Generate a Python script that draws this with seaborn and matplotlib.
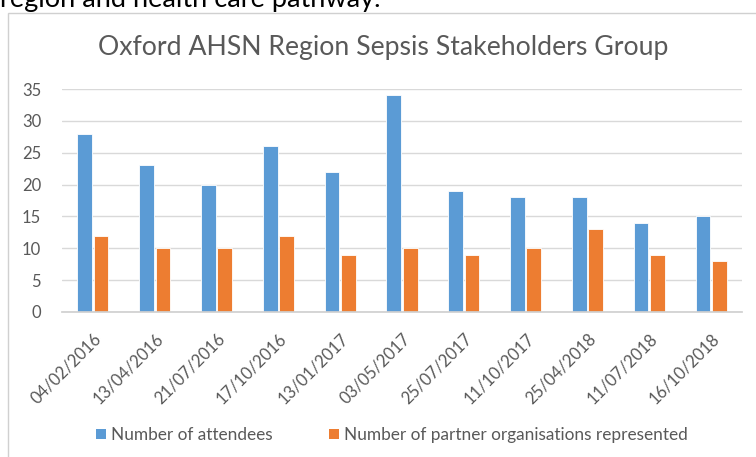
import matplotlib
matplotlib.use("Agg")
import matplotlib.pyplot as plt
import seaborn as sns
import pandas as pd
from matplotlib.patches import Rectangle

dates = ["04/02/2016", "13/04/2016", "21/07/2016", "17/10/2016", "13/01/2017",
         "03/05/2017", "25/07/2017", "11/10/2017", "25/04/2018", "11/07/2018",
         "16/10/2018"]
attendees = [28, 23, 20, 26, 22, 34, 19, 18, 18, 14, 15]
partners = [12, 10, 10, 12, 9, 10, 9, 10, 13, 9, 8]
series_names = ["Number of attendees", "Number of partner organisations represented"]
colors = ["#5B9BD5", "#ED7D31"]
yticks = [0, 5, 10, 15, 20, 25, 30, 35]

df = pd.DataFrame({
    "date": dates * 2,
    "value": attendees + partners,
    "series": [series_names[0]] * len(dates) + [series_names[1]] * len(dates),
})

sns.set_theme(style="white")
plt.rcParams["font.family"] = ["Lato", "DejaVu Sans"]
txt = "#595959"

fig = plt.figure(figsize=(7.56, 4.57), dpi=100)
W, H = 756, 457

# outer chart frame
fig.patches.append(Rectangle((8 / W, -0.05), 1.1, 1 - 12.5 / H + 0.05,
                             transform=fig.transFigure, fill=False,
                             edgecolor="#d0d0d0", linewidth=1.0))
# cut-off text above the chart
fig.text(0.0, 1 - 7 / H, "region and health care pathway.", fontsize=19.5,
         color="black", ha="left", va="baseline")

ax = fig.add_axes([62 / W, 1 - 312 / H, (742 - 62) / W, (312 - 89) / H])
sns.barplot(data=df, x="date", y="value", hue="series", palette=colors,
            width=0.53, gap=0.1, ax=ax, edgecolor="white", linewidth=0.6,
            saturation=1)

ax.set_ylim(0, 35)
ax.set_xlim(-0.5, len(dates) - 0.5)
ax.set_yticks(yticks)
ax.set_yticklabels([str(v) for v in yticks], fontsize=12, color=txt)
ax.yaxis.grid(True, color="#d9d9d9", linewidth=1.0)
ax.set_axisbelow(True)
for s in ["top", "right", "left"]:
    ax.spines[s].set_visible(False)
ax.spines["bottom"].set_color("#d0d0d0")
ax.tick_params(axis="y", length=0, pad=15)

ax.set_xticks(range(len(dates)))
ax.set_xticklabels(dates, rotation=45, ha="right", va="top",
                   rotation_mode="anchor", fontsize=12, color=txt)
ax.tick_params(axis="x", length=0, pad=13)
# category boundary ticks
ax.set_xticks([i - 0.5 for i in range(len(dates) + 1)], minor=True)
ax.tick_params(axis="x", which="minor", length=5, color="#d0d0d0", width=1.0,
               direction="out")
ax.set_xlabel("")
ax.set_ylabel("")

fig.text(383 / W, 1 - 47 / H, "Oxford AHSN Region Sepsis Stakeholders Group",
         fontsize=19.2, color=txt, ha="center", va="center")

ax.legend_.remove()
handles = [Rectangle((0, 0), 1, 1, facecolor=c, edgecolor="none") for c in colors]
fig.legend(handles, series_names, loc="center", bbox_to_anchor=(392 / W, 1 - 435 / H),
           ncol=2, frameon=False, fontsize=12.4, labelcolor=txt,
           handlelength=0.55, handleheight=0.55, handletextpad=0.3, columnspacing=3.3)

fig.savefig("out.png", dpi=100)
